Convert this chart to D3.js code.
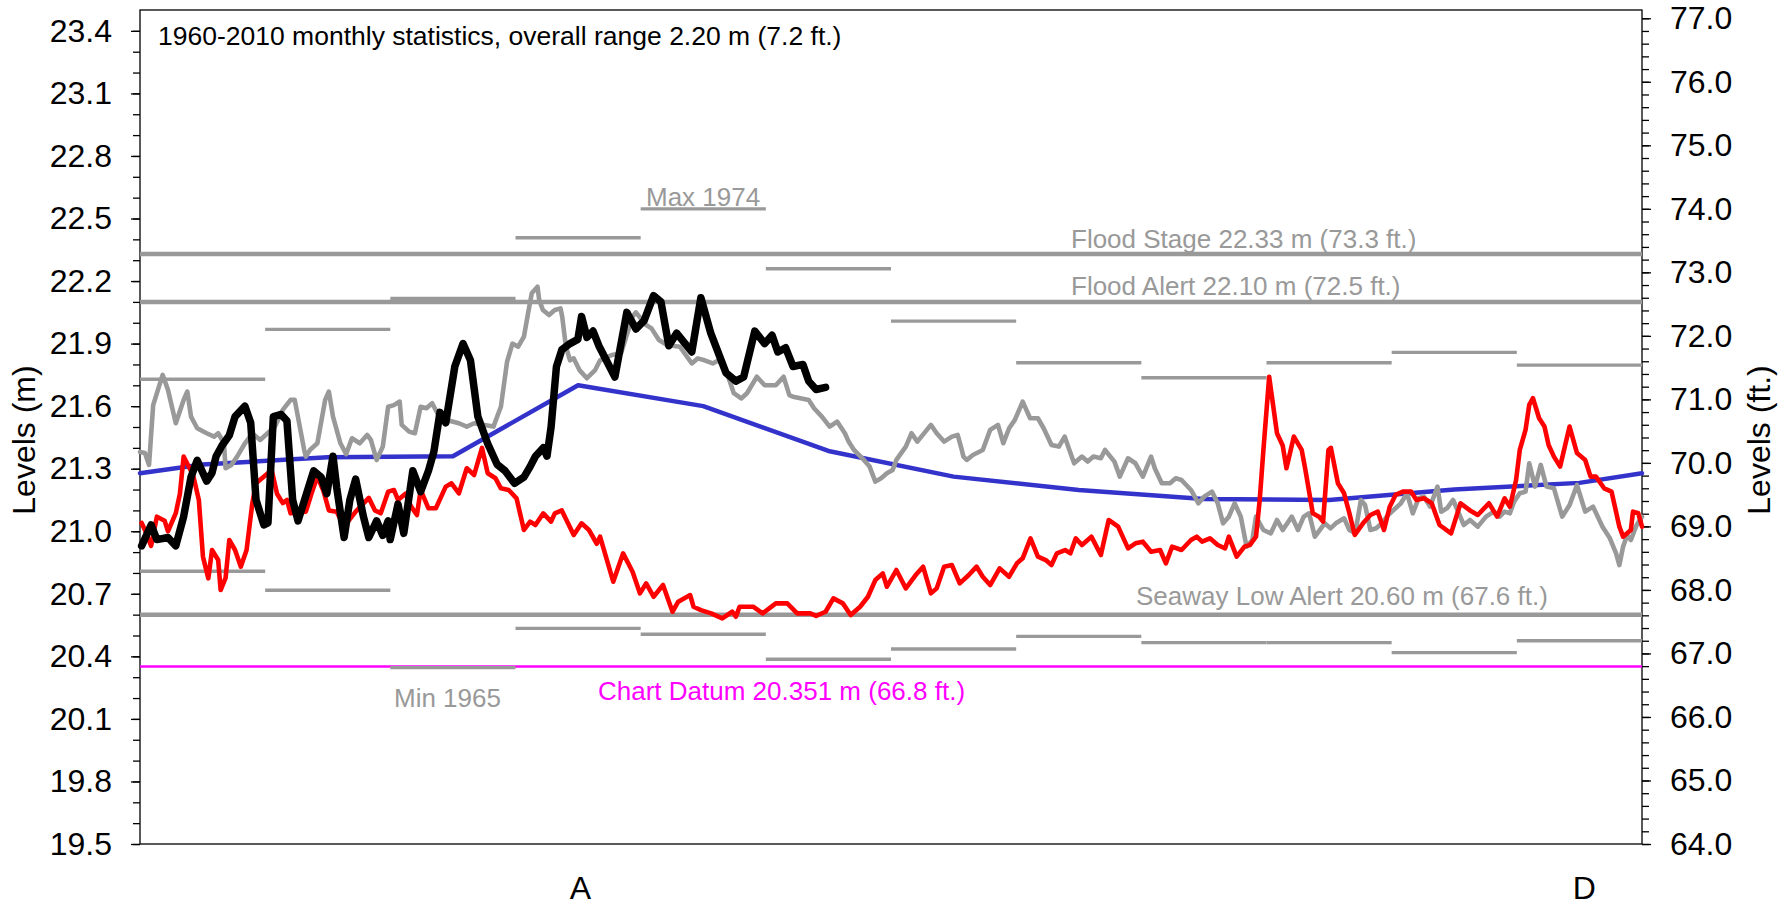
<!DOCTYPE html>
<html>
<head>
<meta charset="utf-8">
<script src="https://cdn.jsdelivr.net/npm/d3@7"></script>
<style>
  body { margin: 0; background: #fff; }
  svg { display: block; font-family: "Liberation Sans", Arial, sans-serif; }
</style>
</head>
<body>
<div id="plot-container"></div>
<script>
'use strict';

// 1960-2010 monthly statistics (m), Jan..Dec
const monthlyMax = [21.729, 21.968, 22.117, 22.408, 22.546, 22.259, 22.008, 21.808, 21.736, 21.808, 21.858, 21.797];
const monthlyMin = [20.808, 20.717, 20.346, 20.534, 20.506, 20.386, 20.435, 20.496, 20.466, 20.466, 20.418, 20.475];
// monthly mean, plus the value at the year boundary (drawn at both ends)
const monthlyMean = [21.32, 21.355, 21.36, 21.70, 21.60, 21.385, 21.262, 21.198, 21.155, 21.15, 21.20, 21.232];
const meanYearEnd = 21.278;

// reference levels (m)
const floodStage = 22.33;
const floodAlert = 22.10;
const seawayLowAlert = 20.60;
const chartDatum = 20.351;

// daily levels, [day of year, level (m)]
const grayYear = [
  [0,21.38],[1.2,21.375],[2.2,21.318],[3.2,21.605],[5.5,21.75],[6.8,21.678],[8.7,21.518],[10.6,21.63],[11.5,21.67],[12.4,21.55],
  [13.9,21.494],[16.2,21.47],[18.0,21.454],[19.0,21.47],[20.4,21.422],[20.8,21.302],[22.2,21.318],[23.6,21.358],[25.5,21.422],[27.3,21.47],
  [29.2,21.438],[32.8,21.502],[34.7,21.582],[36.6,21.63],[37.6,21.63],[39.9,21.39],[40.3,21.358],[41.3,21.39],[43.1,21.422],[45.0,21.63],
  [45.9,21.67],[46.9,21.55],[48.7,21.422],[50.1,21.37],[51.5,21.446],[53.4,21.422],[55.2,21.462],[56.1,21.438],[57.5,21.342],[59.0,21.406],
  [60.3,21.597],[61.7,21.605],[63.1,21.622],[63.6,21.51],[65.4,21.478],[66.8,21.47],[68.2,21.597],[69.6,21.59],[71.0,21.614],[72.9,21.542],
  [77.5,21.518],[79.4,21.502],[81.2,21.518],[85.9,21.502],[86.8,21.55],[87.7,21.597],[89.2,21.813],[90.5,21.90],[91.9,21.885],[93.3,21.933],
  [94.3,22.045],[95.2,22.141],[96.6,22.173],[97.0,22.11],[97.9,22.061],[99.4,22.037],[100.8,22.061],[102.2,22.069],[102.6,22.029],[103.5,21.885],
  [104.5,21.82],[105.4,21.829],[106.8,21.773],[108.6,21.734],[110.6,21.773],[111.8,21.82],[114.6,21.845],[116.9,21.853],[119.7,22.03],[120.5,22.05],
  [123.0,21.989],[124.3,21.973],[126.1,21.917],[128.1,21.893],[131.2,21.885],[134.1,21.805],[135.5,21.829],[137.2,21.82],[139.2,21.805],[140.6,21.82],
  [142.4,21.773],[144.3,21.662],[146.1,21.637],[147.5,21.662],[149.9,21.741],[151.8,21.70],[154.5,21.70],[156.4,21.741],[157.8,21.653],[158.7,21.645],
  [162.5,21.63],[163.8,21.59],[165.7,21.55],[167.6,21.502],[169.4,21.526],[171.3,21.47],[172.2,21.43],[173.5,21.39],[175.9,21.342],[177.3,21.31],
  [178.7,21.238],[180.1,21.254],[181.5,21.278],[182.9,21.294],[183.8,21.342],[186.1,21.406],[187.5,21.47],[188.9,21.43],[192.2,21.51],[193.6,21.47],
  [195.4,21.43],[197.3,21.454],[198.7,21.462],[199.6,21.398],[200.1,21.358],[200.9,21.342],[202.4,21.366],[204.8,21.39],[206.6,21.486],[208.5,21.51],
  [209.8,21.422],[211.2,21.494],[212.6,21.534],[214.5,21.622],[216.3,21.542],[218.2,21.542],[219.6,21.494],[221.5,21.414],[223.3,21.406],[224.7,21.454],
  [225.7,21.398],[227.0,21.326],[228.9,21.358],[230.3,21.334],[231.7,21.358],[233.5,21.35],[234.5,21.39],[236.8,21.334],[238.1,21.262],[240.1,21.35],
  [241.9,21.326],[243.7,21.262],[245.7,21.358],[246.6,21.302],[248.3,21.23],[250.3,21.23],[251.7,21.254],[253.1,21.246],[255.4,21.198],[257.2,21.134],
  [258.6,21.166],[260.5,21.19],[261.9,21.134],[263.2,21.038],[264.6,21.07],[266.0,21.134],[267.5,21.07],[268.9,20.926],[270.3,20.958],[271.2,21.07],
  [273.0,21.006],[274.8,20.99],[276.3,21.054],[277.7,21.006],[279.9,21.07],[281.4,21.006],[282.8,21.07],[284.1,21.086],[285.5,20.974],[287.9,21.038],
  [289.3,21.014],[290.6,21.038],[292.6,21.062],[293.9,21.006],[295.3,20.99],[296.7,21.15],[297.7,21.126],[299.0,21.006],[300.4,21.014],[301.8,21.038],
  [303.3,21.078],[305.1,21.11],[306.4,21.134],[307.9,21.182],[309.3,21.086],[310.7,21.158],[312.0,21.166],[313.5,21.118],[315.3,21.214],[316.2,21.094],
  [317.6,21.11],[319.1,21.15],[321.7,21.03],[323.2,21.054],[325.1,21.022],[327.1,21.07],[329.0,21.094],[330.4,21.07],[331.6,21.094],[332.9,21.086],
  [333.9,21.142],[335.3,21.182],[336.7,21.19],[337.6,21.326],[339.0,21.214],[340.4,21.318],[341.8,21.214],[343.6,21.206],[345.6,21.07],[347.4,21.126],
  [349.2,21.222],[351.2,21.094],[353.1,21.118],[355.4,21.022],[357.2,20.966],[358.7,20.894],[359.5,20.838],[360.4,20.926],[361.4,20.982],[362.3,20.958],
  [363.7,21.03],[365,21.07]
];

const redYear = [
  [0.4,21.04],[1.2,21.006],[2.7,20.93],[4.1,21.07],[6.0,21.05],[6.8,21.0],[8.7,21.087],[9.7,21.18],[10.6,21.358],[12.9,21.27],
  [14.3,21.15],[15.3,20.878],[16.6,20.774],[17.5,20.91],[19.0,20.862],[19.6,20.718],[20.8,20.776],[21.7,20.958],[23.1,20.91],[24.5,20.83],
  [25.9,20.91],[27.3,21.135],[28.2,21.23],[32.0,21.294],[33.3,21.18],[34.7,21.135],[35.7,21.15],[36.6,21.086],[40.3,21.094],[41.7,21.182],
  [43.1,21.262],[44.5,21.198],[45.9,21.10],[47.8,21.094],[49.6,21.022],[52.4,21.094],[55.6,21.16],[57.1,21.10],[58.5,21.086],[60.3,21.19],
  [61.7,21.198],[62.7,21.15],[64.5,21.18],[65.9,21.118],[67.3,21.078],[68.2,21.198],[70.1,21.11],[71.9,21.11],[74.3,21.214],[75.7,21.23],
  [77.5,21.182],[79.4,21.302],[81.2,21.27],[83.1,21.40],[84.5,21.278],[86.4,21.254],[87.7,21.206],[89.6,21.198],[91.5,21.158],[93.3,21.006],
  [94.8,21.046],[96.1,21.03],[98.0,21.086],[99.9,21.046],[100.8,21.086],[102.5,21.10],[105.4,20.982],[107.3,21.038],[109.1,21.006],[111.0,20.94],
  [111.8,20.974],[115.0,20.758],[117.4,20.894],[119.7,20.806],[121.5,20.702],[123.0,20.75],[124.8,20.686],[127.1,20.742],[129.4,20.614],[130.8,20.662],
  [133.7,20.694],[134.5,20.638],[136.3,20.622],[138.8,20.606],[141.5,20.582],[143.9,20.614],[144.8,20.59],[145.7,20.638],[149.0,20.638],[151.3,20.606],
  [154.5,20.654],[157.3,20.654],[159.7,20.606],[162.9,20.606],[164.3,20.594],[166.6,20.614],[168.5,20.678],[170.8,20.654],[172.7,20.598],[175.0,20.638],
  [176.9,20.686],[178.7,20.766],[180.5,20.798],[181.5,20.734],[183.8,20.814],[186.1,20.726],[188.5,20.79],[190.3,20.83],[192.2,20.702],[193.6,20.726],
  [195.4,20.83],[197.3,20.838],[199.2,20.75],[201.4,20.79],[203.3,20.83],[204.8,20.782],[206.6,20.742],[208.9,20.822],[211.2,20.782],[213.1,20.846],
  [214.5,20.87],[216.4,20.966],[218.2,20.878],[220.1,20.862],[221.5,20.838],[222.8,20.894],[224.8,20.91],[226.1,20.894],[227.4,20.966],[228.9,20.934],
  [231.2,20.974],[233.5,20.886],[235.4,21.054],[237.7,21.022],[240.1,20.918],[241.9,20.942],[243.7,20.95],[245.7,20.902],[247.9,20.91],[249.3,20.846],
  [250.8,20.926],[253.1,20.91],[255.4,20.958],[256.8,20.974],[258.1,20.95],[260.0,20.966],[261.9,20.934],[263.7,20.918],[264.6,20.974],[266.5,20.878],
  [268.4,20.926],[269.7,20.934],[271.2,20.974],[272.1,21.15],[273.0,21.39],[274.4,21.741],[276.3,21.47],[277.7,21.41],[278.6,21.302],[280.4,21.454],
  [282.3,21.39],[283.2,21.294],[285.0,21.086],[286.5,21.07],[287.5,21.046],[288.8,21.39],[289.4,21.40],[291.1,21.23],[292.6,21.182],[293.9,21.086],
  [295.2,20.982],[297.2,21.038],[299.0,21.078],[300.8,21.094],[302.3,21.006],[303.7,21.118],[305.1,21.174],[306.9,21.19],[308.9,21.19],[310.2,21.15],
  [312.0,21.158],[313.9,21.134],[315.8,21.03],[318.6,20.99],[320.9,21.134],[323.2,21.10],[325.1,21.078],[327.8,21.134],[329.8,21.07],[331.6,21.158],
  [332.9,21.118],[334.4,21.246],[335.3,21.39],[336.7,21.486],[337.6,21.606],[338.5,21.638],[340.0,21.542],[341.3,21.502],[342.3,21.414],[343.6,21.358],
  [345.1,21.31],[347.4,21.502],[349.2,21.375],[351.2,21.342],[352.5,21.262],[353.8,21.262],[355.8,21.206],[357.6,21.19],[359.5,21.022],[360.4,20.974],
  [362.3,21.006],[362.8,21.094],[364.1,21.086],[365,21.022]
];

const currentYear = [
  [0.4,20.93],[2.7,21.03],[4.1,20.96],[6.8,20.97],[8.7,20.93],[10.6,21.07],[12.4,21.26],[13.9,21.34],[16.2,21.24],[17.5,21.28],
  [18.5,21.36],[19.9,21.41],[21.7,21.46],[23.1,21.55],[25.5,21.60],[26.9,21.52],[28.2,21.15],[30.1,21.03],[31.1,21.04],[32.4,21.55],
  [34.3,21.56],[35.7,21.53],[37.1,21.15],[38.4,21.05],[40.3,21.17],[42.2,21.29],[44.0,21.26],[45.4,21.18],[46.9,21.36],[47.8,21.21],
  [49.6,20.97],[51.0,21.15],[52.4,21.25],[54.3,21.07],[55.6,20.97],[57.5,21.05],[59.0,20.98],[60.3,21.05],[60.8,20.96],[62.7,21.13],
  [64.1,20.99],[66.3,21.29],[68.2,21.19],[70.1,21.29],[71.4,21.38],[72.9,21.57],[74.3,21.52],[76.5,21.79],[78.5,21.90],[80.3,21.82],
  [82.1,21.55],[84.5,21.42],[86.8,21.32],[88.7,21.29],[91.0,21.23],[93.3,21.26],[94.8,21.31],[96.1,21.36],[98.0,21.40],[98.9,21.36],
  [99.9,21.50],[101.2,21.79],[102.5,21.87],[104.5,21.90],[106.4,21.92],[107.3,22.03],[108.6,21.93],[110.1,21.96],[111.5,21.89],[115.4,21.74],
  [118.3,22.05],[120.5,21.97],[122.5,22.01],[124.8,22.13],[126.6,22.10],[128.5,21.89],[130.4,21.95],[134.1,21.86],[136.3,22.12],[138.7,21.95],
  [142.4,21.76],[144.8,21.72],[146.7,21.74],[149.4,21.96],[151.8,21.90],[153.6,21.94],[155.0,21.86],[156.9,21.88],[158.7,21.79],[161.1,21.80],
  [162.5,21.72],[164.3,21.68],[166.6,21.69]
];

// axis ticks and labels
const ticksMetres = [19.5, 19.8, 20.1, 20.4, 20.7, 21.0, 21.3, 21.6, 21.9, 22.2, 22.5, 22.8, 23.1, 23.4];
const ticksFeet = [64, 65, 66, 67, 68, 69, 70, 71, 72, 73, 74, 75, 76, 77];
const monthLabels = ["A", "D"];
const monthLabelDays = [107, 351];

(function () {
  const width = 1787, height = 908;
  const left = 140, right = 1642, top = 10, bottom = 844;
  const daysInYear = 365;
  const monthLen = daysInYear / 12;
  const gray = "#999999";

  const svg = d3.select("#plot-container").append("svg")
    .attr("width", width)
    .attr("height", height);

  const x = d3.scaleLinear().domain([0, daysInYear]).range([left, right]);
  const y = d3.scaleLinear().domain([19.5, 23.5]).range([bottom, top]);
  const yFt = d3.scaleLinear().domain([64, 77.13]).range([bottom, top]);

  // plot frame
  svg.append("rect")
    .attr("x", left).attr("y", top)
    .attr("width", right - left).attr("height", bottom - top)
    .attr("fill", "none").attr("stroke", "#000").attr("stroke-width", 1.3);

  // left axis: major + minor ticks
  const leftMinor = svg.append("g").attr("transform", `translate(${left},0)`)
    .call(d3.axisLeft(y).tickValues(d3.range(195, 235, 1).map(d => d / 10)).tickSize(7).tickFormat(""));
  const leftAxis = svg.append("g").attr("transform", `translate(${left},0)`)
    .call(d3.axisLeft(y).tickValues(ticksMetres).tickSize(9).tickPadding(19).tickFormat(d3.format(".1f")));

  // right axis in feet
  const rightMinor = svg.append("g").attr("transform", `translate(${right},0)`)
    .call(d3.axisRight(yFt).tickValues(d3.range(320, 386, 1).map(d => d / 5)).tickSize(7).tickFormat(""));
  const rightAxis = svg.append("g").attr("transform", `translate(${right},0)`)
    .call(d3.axisRight(yFt).tickValues(ticksFeet).tickSize(9).tickPadding(19).tickFormat(d3.format(".1f")));

  [leftMinor, leftAxis, rightMinor, rightAxis].forEach(g => {
    g.select(".domain").remove();
    g.selectAll("line").attr("stroke", "#000").attr("stroke-width", 1.3);
    g.selectAll("text").attr("font-size", 32).attr("fill", "#000")
      .attr("font-family", "Liberation Sans, Arial, sans-serif");
  });

  // month labels under the axis
  svg.append("g").selectAll("text")
    .data(monthLabels)
    .join("text")
    .attr("x", (d, i) => x(monthLabelDays[i]))
    .attr("y", 899)
    .attr("text-anchor", "middle")
    .attr("font-size", 32)
    .text(d => d);

  // axis titles
  svg.append("text")
    .attr("transform", "translate(35,440) rotate(-90)")
    .attr("text-anchor", "middle").attr("font-size", 32)
    .text("Levels (m)");
  svg.append("text")
    .attr("transform", "translate(1770,440) rotate(-90)")
    .attr("text-anchor", "middle").attr("font-size", 32)
    .text("Levels (ft.)");

  // reference levels
  const refs = [
    {v: floodStage, color: gray, w: 4.5},
    {v: floodAlert, color: gray, w: 4.5},
    {v: seawayLowAlert, color: gray, w: 4.5},
    {v: chartDatum, color: "#ff00ff", w: 2.5}
  ];
  svg.append("g").selectAll("line")
    .data(refs)
    .join("line")
    .attr("x1", left).attr("x2", right)
    .attr("y1", d => y(d.v)).attr("y2", d => y(d.v))
    .attr("stroke", d => d.color)
    .attr("stroke-width", d => d.w);

  // monthly max / min steps
  const steps = svg.append("g").attr("stroke", gray).attr("stroke-width", 3.4);
  [monthlyMax, monthlyMin].forEach(arr => {
    steps.append("g").selectAll("line")
      .data(arr)
      .join("line")
      .attr("x1", (d, i) => x(i * monthLen))
      .attr("x2", (d, i) => x((i + 1) * monthLen))
      .attr("y1", d => y(d)).attr("y2", d => y(d));
  });

  const line = d3.line().x(d => x(d[0])).y(d => y(d[1]));

  // monthly mean, centred on months, joined to the year boundary at the edges
  const meanPts = [[0, meanYearEnd]]
    .concat(monthlyMean.map((v, i) => [(i + 0.5) * monthLen, v]))
    .concat([[daysInYear, meanYearEnd]]);

  const series = [
    {data: meanPts, color: "#3333cc", w: 4.5},
    {data: grayYear, color: gray, w: 4.6},
    {data: redYear, color: "#ff0000", w: 4.6},
    {data: currentYear, color: "#000000", w: 7.5}
  ];
  svg.append("g").selectAll("path")
    .data(series)
    .join("path")
    .attr("d", d => line(d.data))
    .attr("fill", "none")
    .attr("stroke", d => d.color)
    .attr("stroke-width", d => d.w)
    .attr("stroke-linejoin", "round")
    .attr("stroke-linecap", "round");

  // annotation texts
  const notes = [
    {t: "1960-2010 monthly statistics, overall range 2.20 m (7.2 ft.)", x: 158, y: 45, c: "#000", s: 26.5},
    {t: "Max 1974", x: 646, y: y(monthlyMax[4]) - 3, c: gray, s: 26},
    {t: "Min 1965", x: 394, y: y(monthlyMin[2]) + 39, c: gray, s: 26},
    {t: "Flood Stage 22.33 m (73.3 ft.)", x: 1071, y: y(floodStage) - 6, c: gray, s: 26},
    {t: "Flood Alert 22.10 m (72.5 ft.)", x: 1071, y: y(floodAlert) - 7, c: gray, s: 26},
    {t: "Seaway Low Alert 20.60 m (67.6 ft.)", x: 1136, y: y(seawayLowAlert) - 10, c: gray, s: 26},
    {t: "Chart Datum 20.351 m (66.8 ft.)", x: 598, y: y(chartDatum) + 33, c: "#ff00ff", s: 26}
  ];
  svg.append("g").selectAll("text")
    .data(notes)
    .join("text")
    .attr("x", d => d.x).attr("y", d => d.y)
    .attr("fill", d => d.c)
    .attr("font-size", d => d.s)
    .text(d => d.t);
})();
</script>
</body>
</html>
